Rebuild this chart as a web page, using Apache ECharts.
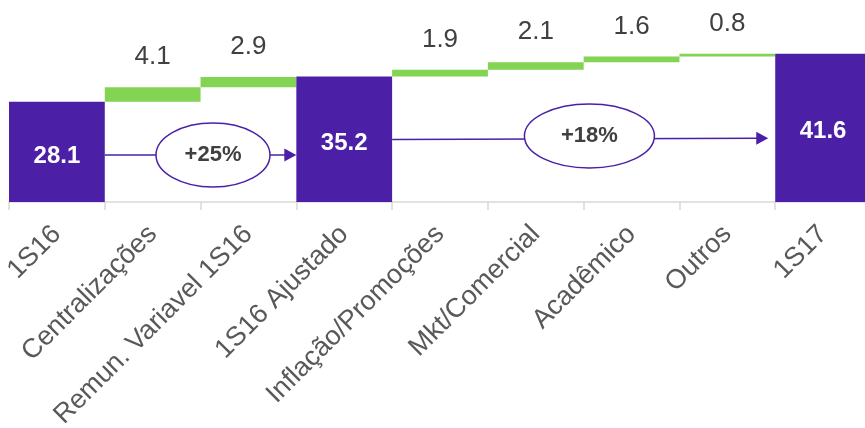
<!DOCTYPE html>
<html><head><meta charset="utf-8">
<script src="https://cdn.jsdelivr.net/npm/echarts@6/dist/echarts.min.js"></script>
<style>html,body{margin:0;padding:0;background:#fff;overflow:hidden}#c{width:865px;height:428px}</style>
</head><body><div id="c"></div>
<script>
const categories = ['1S16','Centralizações','Remun. Variavel 1S16','1S16 Ajustado','Inflação/Promoções','Mkt/Comercial','Acadêmico','Outros','1S17'];
const totals = [28.1, null, null, 35.2, null, null, null, null, 41.6];
const increments = [null, 4.1, 2.9, null, 1.9, 2.1, 1.6, 0.8, null];
const growthLabels = ['+25%', '+18%'];

// invisible bases for the floating bars, derived from the values above
const bases = [];
let run = 0;
for (let i = 0; i < categories.length; i++) {
  if (totals[i] != null) { run = totals[i]; bases.push(0); }
  else { bases.push(run); run += increments[i]; }
}

const PURPLE = '#4B20A6', GREEN = '#82D452', TXT = '#404040', AX = '#595959';
const FONT = '"Liberation Sans", Arial, sans-serif';

const chart = echarts.init(document.getElementById('c'));
chart.setOption({
  animation: false,
  grid: { left: 9, width: 862, top: 22, bottom: 226, containLabel: false, outerBoundsMode: 'none' },
  xAxis: {
    type: 'category', data: categories,
    axisLine: { lineStyle: { color: '#D9D9D9', width: 1.5 } },
    axisTick: { show: true, length: 8, lineStyle: { color: '#D9D9D9', width: 1.5 } },
    axisLabel: { interval: 0, rotate: 45, fontSize: 27, color: AX, fontFamily: FONT, margin: 28 }
  },
  yAxis: { type: 'value', min: 0, max: 50.5, show: false },
  series: [
    { type: 'bar', stack: 'w', data: bases.map(v => v), barWidth: '100%', itemStyle: { color: 'transparent' }, silent: true },
    { type: 'bar', stack: 'w', data: increments.map(v => v == null ? '-' : v), barWidth: '100%',
      itemStyle: { color: GREEN },
      label: { show: true, position: 'top', distance: 17, fontSize: 26, color: TXT, fontFamily: FONT,
        formatter: p => p.value.toFixed(1) } },
    { type: 'bar', stack: 'w', data: totals.map(v => v == null ? '-' : v), barWidth: '100%',
      itemStyle: { color: PURPLE },
      label: { show: true, position: 'inside', offset: [0, 4], fontSize: 24, fontWeight: 'bold', color: '#fff', fontFamily: FONT,
        formatter: p => p.value.toFixed(1) } }
  ]
});

// growth annotations (arrow + ellipse) placed through the chart's own scales
const annots = [
  { from: 0, to: 3, y1: 13.2, y2: 13.2, ex: 1.63, ey: 13.2, rx: 57, ry: 32, tipGap: 0, label: growthLabels[0] },
  { from: 3, to: 8, y1: 17.5, y2: 17.9, ex: 5.56, ey: 18.5, rx: 65, ry: 32, tipGap: 7, label: growthLabels[1] }
];
const px = i => chart.convertToPixel({ xAxisIndex: 0 }, i);
const py = v => chart.convertToPixel({ yAxisIndex: 0 }, v);
const bw = px(1) - px(0);
const xf = f => px(0) + f * bw;
const elements = [];
annots.forEach(a => {
  const x1 = px(a.from) + bw / 2, x2 = px(a.to) - bw / 2 - a.tipGap;
  const ya = py(a.y1), yb = py(a.y2);
  const cx = xf(a.ex), cy = py(a.ey);
  elements.push({ type: 'line', shape: { x1: x1, y1: ya, x2: x2 - 10, y2: yb }, style: { stroke: PURPLE, lineWidth: 1.5 }, z: 10 });
  elements.push({ type: 'polygon', shape: { points: [[x2, yb], [x2 - 12, yb - 6.5], [x2 - 12, yb + 6.5]] }, style: { fill: PURPLE }, z: 11 });
  elements.push({ type: 'ellipse', shape: { cx: cx, cy: cy, rx: a.rx, ry: a.ry }, style: { fill: '#fff', stroke: PURPLE, lineWidth: 1.5 }, z: 12 });
  elements.push({ type: 'text', x: cx, y: cy, style: { text: a.label, fill: TXT, font: 'bold 22px ' + FONT, align: 'center', verticalAlign: 'middle' }, z: 13 });
});
chart.setOption({ graphic: { elements: elements } });
</script>
</body></html>
